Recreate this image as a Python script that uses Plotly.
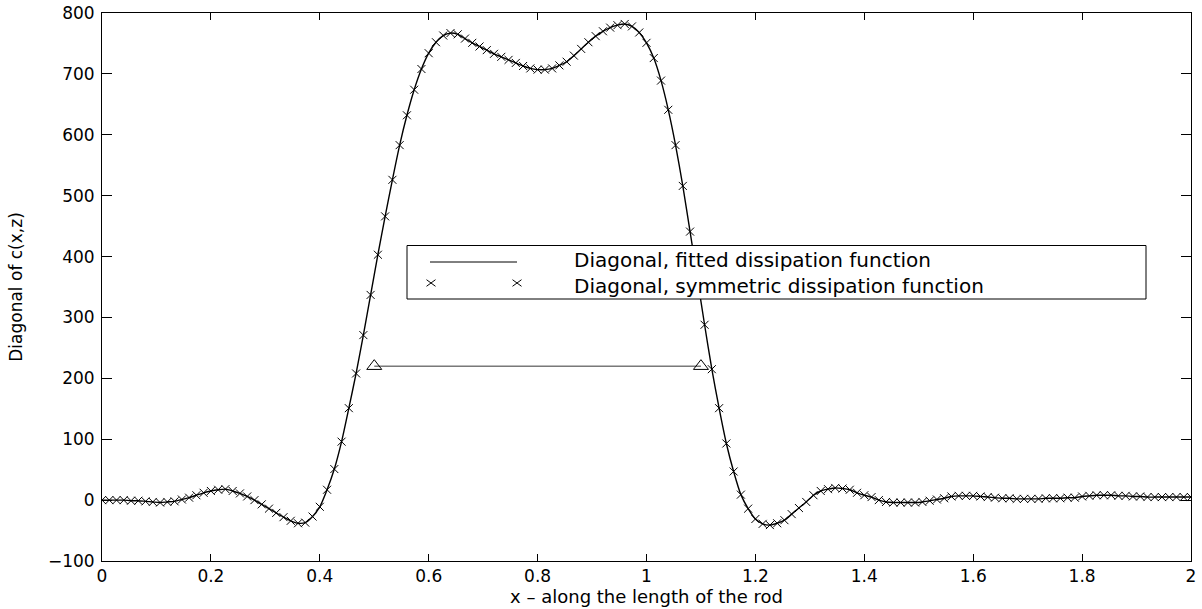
import numpy as np
import plotly.graph_objects as go

# ---------------- data ----------------
# Diagonal of c(x,z) sampled every 2/150 along the rod (x = 0 ... 2)
diag_values = [
    0, 0, 0, 0, -1, -1, -2, -3, -4, -3,
    -2, 1, 4, 8, 12, 15, 17, 18, 15, 11,
    6, 0, -7, -14, -21, -28, -34, -38, -37, -27,
    -11, 17, 51, 96, 151, 208, 271, 337, 403, 466,
    526, 583, 632, 674, 708, 734, 752, 763, 767, 765,
    758, 751, 745, 739, 733, 728, 723, 718, 713, 709,
    707, 707, 709, 714, 720, 730, 741, 752, 762, 770,
    776, 780, 782, 778, 768, 751, 726, 689, 641, 583,
    516, 441, 365, 288, 215, 151, 93, 47, 9, -14,
    -31, -39, -41, -38, -33, -23, -13, -3, 8, 15,
    18, 20, 19, 17, 12, 8, 5, 0, -3, -4,
    -4, -4, -4, -3, -1, 1, 3, 6, 7, 7,
    7, 6, 5, 4, 3, 3, 2, 2, 2, 2,
    3, 3, 3, 4, 4, 6, 7, 8, 8, 8,
    7, 7, 6, 6, 5, 5, 5, 5, 5, 5,
    5,
]
x_start, x_end = 0.0, 2.0
x_values = np.linspace(x_start, x_end, len(diag_values))

# width marker (horizontal bar with triangles)
bar_x = [0.5, 1.1]
bar_level = [220, 220]

x_tickvals = [0, 0.2, 0.4, 0.6, 0.8, 1.0, 1.2, 1.4, 1.6, 1.8, 2.0]
x_ticktext = ["0", "0.2", "0.4", "0.6", "0.8", "1", "1.2", "1.4", "1.6", "1.8", "2"]
y_tickvals = [-100, 0, 100, 200, 300, 400, 500, 600, 700, 800]
y_ticktext = ["\u2212100", "0", "100", "200", "300", "400", "500", "600", "700", "800"]

legend_labels = ["Diagonal, fitted dissipation function",
                 "Diagonal, symmetric dissipation function"]

# ---------------- layout geometry ----------------
W, H = 1202, 609
ML, MR, MT, MB = 102, 11, 13, 48
PW, PH = W - ML - MR, H - MT - MB
FONT = "DejaVu Sans"


def px(xpix):
    return (xpix - ML) / PW


def py(ypix):
    return (H - MB - ypix) / PH


fig = go.Figure()

fig.add_trace(go.Scatter(
    x=x_values, y=diag_values, mode="lines",
    line=dict(color="black", width=1.4, shape="spline", smoothing=0.6),
    name=legend_labels[0], showlegend=False, hoverinfo="skip"))

fig.add_trace(go.Scatter(
    x=x_values, y=diag_values, mode="markers",
    marker=dict(symbol="x-thin", size=8, color="black",
                line=dict(color="black", width=1)),
    name=legend_labels[1], showlegend=False))

fig.add_trace(go.Scatter(
    x=bar_x, y=bar_level, mode="lines+markers",
    line=dict(color="black", width=0.8),
    marker=dict(symbol="triangle-up-open", size=13, color="black",
                line=dict(color="black", width=1)),
    showlegend=False))

# ---------------- manual MATLAB-style legend ----------------
shapes = []
box = dict(x0=407, x1=1146, y0=245.5, y1=299)
shapes.append(dict(type="rect", xref="paper", yref="paper",
                   x0=px(box["x0"]), x1=px(box["x1"]),
                   y0=py(box["y1"]), y1=py(box["y0"]),
                   line=dict(color="black", width=1), fillcolor="white",
                   layer="above"))
shapes.append(dict(type="line", xref="paper", yref="paper",
                   x0=px(430), x1=px(517), y0=py(262), y1=py(262),
                   line=dict(color="black", width=1), layer="above"))
for cx in (431, 517):
    cy = 283
    hx, hy = 4.5, 3.3
    shapes.append(dict(type="line", xref="paper", yref="paper",
                       x0=px(cx - hx), x1=px(cx + hx), y0=py(cy - hy), y1=py(cy + hy),
                       line=dict(color="black", width=1), layer="above"))
    shapes.append(dict(type="line", xref="paper", yref="paper",
                       x0=px(cx - hx), x1=px(cx + hx), y0=py(cy + hy), y1=py(cy - hy),
                       line=dict(color="black", width=1), layer="above"))

annotations = [dict(
    text="<br>".join(legend_labels), xref="paper", yref="paper",
    x=px(572), y=py(272.5), xanchor="left", yanchor="middle", align="left",
    showarrow=False, font=dict(family=FONT, size=20, color="black"))]

fig.update_layout(
    width=W, height=H,
    margin=dict(l=ML, r=MR, t=MT, b=MB, pad=0),
    paper_bgcolor="white", plot_bgcolor="white",
    font=dict(family=FONT, size=17, color="black"),
    shapes=shapes, annotations=annotations,
    showlegend=False,
)

fig.update_xaxes(
    range=[0, 2], tickvals=x_tickvals, ticktext=x_ticktext,
    showgrid=False, zeroline=False, showline=True, linecolor="black",
    linewidth=1, mirror="ticks", ticks="inside", ticklen=7,
    tickcolor="black", tickfont=dict(family=FONT, size=17, color="black"),
    title=dict(text="x \u2013 along the length of the rod",
               font=dict(family=FONT, size=18, color="black"), standoff=0),
    automargin=False,
)
fig.update_yaxes(
    range=[-100, 800], tickvals=y_tickvals, ticktext=y_ticktext,
    showgrid=False, zeroline=False, showline=True, linecolor="black",
    linewidth=1, mirror="ticks", ticks="inside", ticklen=10,
    tickcolor="black", tickfont=dict(family=FONT, size=17, color="black"),
    ticklabelstandoff=3,
    title=dict(text="Diagonal of c(x,z)",
               font=dict(family=FONT, size=17, color="black"), standoff=20),
    automargin=False,
)

fig.write_html("out.html")
